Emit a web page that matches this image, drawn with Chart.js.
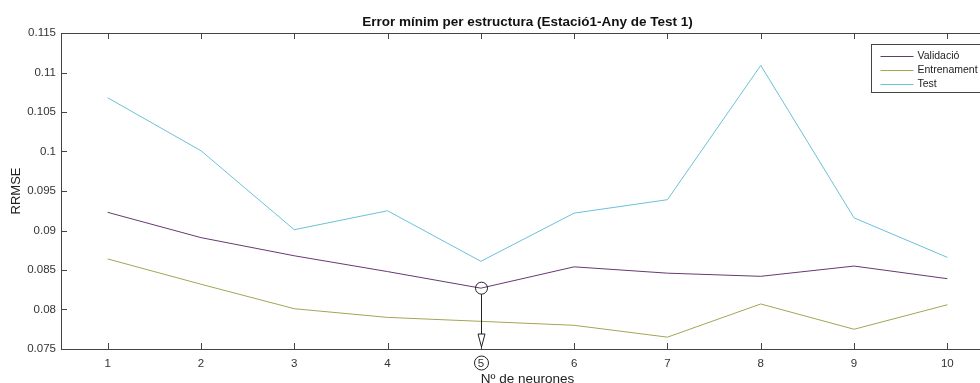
<!DOCTYPE html>
<html>
<head>
<meta charset="utf-8">
<script src="https://cdn.jsdelivr.net/npm/chart.js@4.4.1/dist/chart.umd.min.js"></script>
<style>
  html, body { margin: 0; padding: 0; background: #fff; }
  #wrap { width: 980px; height: 383px; overflow: hidden; }
  canvas { display: block; }
</style>
</head>
<body>
<div id="wrap"><canvas id="chart" width="1054" height="390"></canvas></div>
<script>
// values
const neurones = [1, 2, 3, 4, 5, 6, 7, 8, 9, 10];
const validacio = [0.0923, 0.0891, 0.0868, 0.0848, 0.0827, 0.0854, 0.0846, 0.0842, 0.0855, 0.0839];
const entrenament = [0.0864, 0.0832, 0.0801, 0.0790, 0.0785, 0.0780, 0.0765, 0.0807, 0.0775, 0.0806];
const test = [0.1068, 0.1001, 0.0901, 0.0925, 0.0861, 0.0922, 0.0939, 0.1109, 0.0916, 0.0866];
const yTicks = [0.075, 0.08, 0.085, 0.09, 0.095, 0.1, 0.105, 0.11, 0.115];
const titleText = 'Error mínim per estructura (Estació1-Any de Test 1)';

const axisColor = '#444';
const fontFamily = '"Liberation Sans", Arial, Helvetica, sans-serif';

// title centred over the axes (the built-in one centres over the canvas)
const axesTitle = {
    id: 'axesTitle',
    afterDraw(chart) {
        const { ctx, chartArea: a } = chart;
        ctx.save();
        ctx.font = 'bold 13.5px ' + fontFamily;
        ctx.fillStyle = '#111';
        ctx.textAlign = 'center';
        ctx.textBaseline = 'middle';
        ctx.fillText(titleText, (a.left + a.right) / 2, 22.5);
        ctx.restore();
    }
};

// MATLAB style box with inward ticks
const matlabBox = {
    id: 'matlabBox',
    afterDraw(chart) {
        const { ctx, chartArea: a, scales: { x, y } } = chart;
        ctx.save();
        ctx.strokeStyle = axisColor;
        ctx.lineWidth = 1;
        ctx.strokeRect(a.left + 0.5, a.top + 0.5, a.right - a.left, a.bottom - a.top);
        ctx.beginPath();
        x.ticks.forEach(t => {
            const px = Math.round(x.getPixelForValue(t.value)) + 0.5;
            ctx.moveTo(px, a.bottom); ctx.lineTo(px, a.bottom - 6);
            ctx.moveTo(px, a.top); ctx.lineTo(px, a.top + 6);
        });
        y.ticks.forEach(t => {
            const py = Math.round(y.getPixelForValue(t.value)) + 0.5;
            ctx.moveTo(a.left, py); ctx.lineTo(a.left + 6, py);
            ctx.moveTo(a.right, py); ctx.lineTo(a.right - 6, py);
        });
        ctx.stroke();
        ctx.restore();
    }
};

// circle on the best validation point + arrow down to the axis
const bestMark = {
    id: 'bestMark',
    afterDraw(chart) {
        const { ctx, chartArea: a, scales: { x, y } } = chart;
        const best = validacio.indexOf(Math.min(...validacio));
        const px = Math.round(x.getPixelForValue(neurones[best])) + 0.5;
        const py = y.getPixelForValue(validacio[best]);
        ctx.save();
        ctx.strokeStyle = '#222';
        ctx.lineWidth = 1;
        ctx.beginPath();
        ctx.arc(px, py, 6, 0, Math.PI * 2);
        ctx.stroke();
        ctx.beginPath();
        ctx.moveTo(px, py + 6);
        ctx.lineTo(px, a.bottom - 2);
        ctx.stroke();
        // open arrow head
        ctx.beginPath();
        ctx.moveTo(px - 3.5, a.bottom - 15);
        ctx.lineTo(px + 3.5, a.bottom - 15);
        ctx.lineTo(px, a.bottom - 2);
        ctx.closePath();
        ctx.fillStyle = '#fff';
        ctx.fill();
        ctx.stroke();
        // circle round the tick label
        ctx.beginPath();
        ctx.arc(px, a.bottom + 14, 7, 0, Math.PI * 2);
        ctx.stroke();
        ctx.restore();
    }
};

const legendBox = {
    id: 'legendBox',
    afterDraw(chart) {
        const { ctx, chartArea: a } = chart;
        const x0 = a.right - 122.5, y0 = a.top + 11.5, w = 116, h = 48;
        ctx.save();
        ctx.fillStyle = '#fff';
        ctx.fillRect(x0, y0, w, h);
        ctx.strokeStyle = axisColor;
        ctx.lineWidth = 1;
        ctx.strokeRect(x0, y0, w, h);
        ctx.font = '10.5px ' + fontFamily;
        ctx.textBaseline = 'middle';
        chart.data.datasets.forEach((ds, i) => {
            const ly = Math.round(y0 + 11 + i * 14) + 0.5;
            ctx.strokeStyle = ds.borderColor;
            ctx.beginPath();
            ctx.moveTo(x0 + 9, ly); ctx.lineTo(x0 + 42, ly);
            ctx.stroke();
            ctx.fillStyle = '#222';
            ctx.fillText(ds.label, x0 + 46, ly);
        });
        ctx.restore();
    }
};

new Chart(document.getElementById('chart'), {
    type: 'line',
    data: {
        labels: neurones,
        datasets: [
            { label: 'Validació', data: validacio, borderColor: '#66396f' },
            { label: 'Entrenament', data: entrenament, borderColor: '#a4a455' },
            { label: 'Test', data: test, borderColor: '#6cc0da' }
        ].map(d => ({ ...d, data: d.data.map((v, i) => ({ x: neurones[i], y: v })), borderWidth: 1, pointRadius: 0, tension: 0, fill: false }))
    },
    options: {
        responsive: false,
        animation: false,
        layout: { padding: { left: 0, right: 60, top: 33, bottom: 0 } },
        plugins: {
            legend: { display: false },
            tooltip: { enabled: false },
            title: { display: false }
        },
        scales: {
            x: {
                type: 'linear',
                min: 0.5,
                max: 10.5,
                afterBuildTicks: s => { s.ticks = neurones.map(v => ({ value: v })); },
                afterFit: s => { s.height = 41; },
                grid: { display: false, drawTicks: false },
                border: { display: false },
                ticks: { color: '#333', padding: 8, font: { family: fontFamily, size: 11.5 } },
                title: { display: true, text: 'Nº de neurones', color: '#222', padding: { top: 0, bottom: 3 }, font: { family: fontFamily, size: 13.5 } }
            },
            y: {
                min: 0.075,
                max: 0.115,
                afterBuildTicks: s => { s.ticks = yTicks.map(v => ({ value: v })); },
                afterFit: s => { s.width = 61; },
                grid: { display: false, drawTicks: false },
                border: { display: false },
                ticks: { color: '#333', padding: 5, callback: v => String(+v.toFixed(3)), font: { family: fontFamily, size: 11.5 } },
                title: { display: true, text: 'RRMSE', color: '#222', padding: { top: 9, bottom: 0 }, font: { family: fontFamily, size: 13 } }
            }
        }
    },
    plugins: [axesTitle, matlabBox, bestMark, legendBox]
});
</script>
</body>
</html>
